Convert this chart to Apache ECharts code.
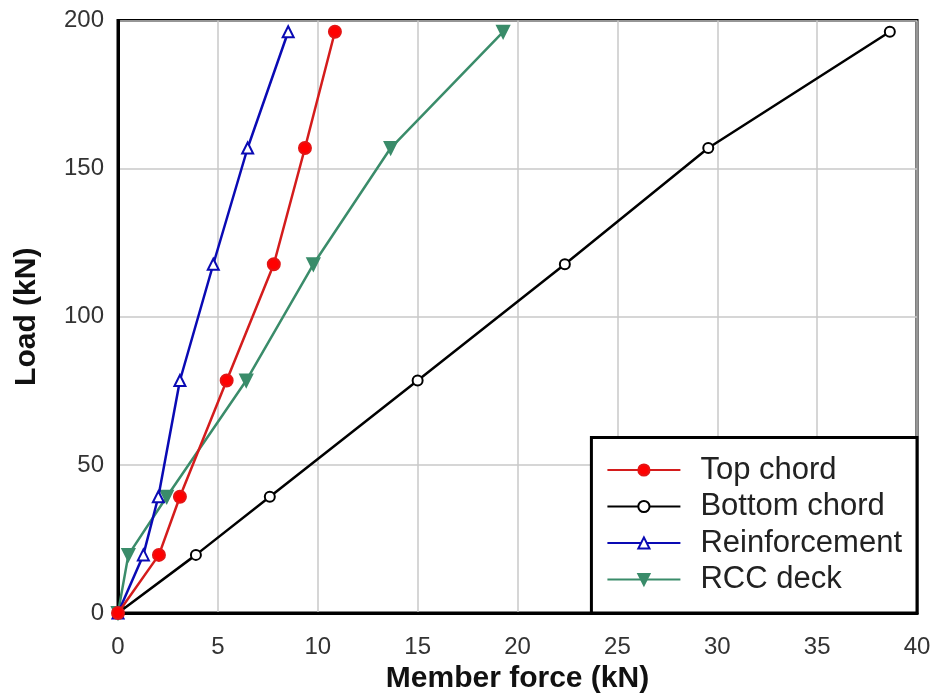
<!DOCTYPE html>
<html>
<head>
<meta charset="utf-8">
<script src="https://cdn.jsdelivr.net/npm/echarts@6/dist/echarts.min.js"></script>
<style>
html,body{margin:0;padding:0;background:#fff;}
#chart{width:935px;height:696px;}
</style>
</head>
<body>
<div id="chart"></div>
<script>
const loads = [0, 19.62, 39.24, 78.48, 117.72, 156.96, 196.2];
const topChord = [0, 2.05, 3.1, 5.44, 7.8, 9.36, 10.86];
const bottomChord = [0, 3.9, 7.6, 15.0, 22.37, 29.55, 38.64];
const reinforcement = [0, 1.27, 2.02, 3.1, 4.77, 6.49, 8.52];
const rccDeck = [0, 0.52, 2.44, 6.42, 9.78, 13.65, 19.28];
const seriesNames = ['Top chord', 'Bottom chord', 'Reinforcement', 'RCC deck'];
const xTicks = [0, 5, 10, 15, 20, 25, 30, 35, 40];
const yTicks = [0, 50, 100, 150, 200];

const FONT = '"Liberation Sans", Arial, sans-serif';
function pairs(xs){ return xs.map((x,i)=>[x, loads[i]]); }

const chart = echarts.init(document.getElementById('chart'), null, {renderer:'canvas'});
const styles = [
  {color:'#e41414', line:'#d41c1c', symbol:'circle', size:12, fill:'#ff0000'},
  {color:'#000000', line:'#000000', symbol:'circle', size:10, fill:'#ffffff'},
  {color:'#0a0ab4', line:'#0a0ab4', symbol:'triangle', size:11, fill:'#ffffff'},
  {color:'#3a8c6a', line:'#3a8c6a', symbol:'triangle', size:12, fill:'#3a8c6a', rotate:180}
];
const datasets = [topChord, bottomChord, reinforcement, rccDeck];

const series = datasets.map((d,i)=>({
  name: seriesNames[i],
  type: 'line',
  data: pairs(d),
  clip: false,
  symbol: styles[i].symbol,
  symbolSize: styles[i].size,
  symbolRotate: styles[i].rotate || 0,
  showAllSymbol: true,
  lineStyle: {color: styles[i].line, width: 2.5},
  itemStyle: {color: styles[i].fill, borderColor: styles[i].color, borderWidth: 2},
  emphasis: {disabled: true},
  z: 10 - i
}));

chart.setOption({
  animation: false,
  backgroundColor: '#ffffff',
  grid: {left:118, right:18, top:20.5, bottom:83, show:true, borderColor:'#000', borderWidth:3, backgroundColor:'#fff',
    outerBoundsMode:'none', containLabel:false},
  xAxis: {
    type:'value', min:0, max:40, interval:5,
    name:'Member force (kN)', nameLocation:'middle', nameGap:46,
    nameTextStyle:{fontFamily:FONT, fontWeight:'bold', fontSize:30, color:'#111'},
    axisLine:{show:true, lineStyle:{color:'#000', width:3}},
    axisTick:{show:false},
    axisLabel:{fontFamily:FONT, fontSize:24, color:'#333', margin:22,
      formatter:v=> xTicks.includes(v) ? String(v) : ''},
    splitLine:{show:true, lineStyle:{color:'#c8c8c8', width:1.5}}
  },
  yAxis: {
    type:'value', min:0, max:200, interval:50,
    name:'Load (kN)', nameLocation:'middle', nameGap:76,
    nameTextStyle:{fontFamily:FONT, fontWeight:'bold', fontSize:30, color:'#111'},
    axisLine:{show:true, lineStyle:{color:'#000', width:3}},
    axisTick:{show:false},
    axisLabel:{fontFamily:FONT, fontSize:24, color:'#333', margin:14,
      formatter:v=> yTicks.includes(v) ? String(v) : ''},
    splitLine:{show:true, lineStyle:{color:'#c8c8c8', width:1.5}}
  },
  legend: {
    data: seriesNames,
    orient:'vertical',
    right:18, bottom:83,
    backgroundColor:'#fff',
    borderColor:'#000', borderWidth:3, borderRadius:0,
    padding:[17, 15, 18, 15],
    itemWidth:73, itemHeight:14, itemGap:5.5,
    selectedMode:false,
    textStyle:{fontFamily:FONT, fontSize:31, color:'#222', padding:[0,0,0,15], lineHeight:30}
  },
  series: series
});
</script>
</body>
</html>
